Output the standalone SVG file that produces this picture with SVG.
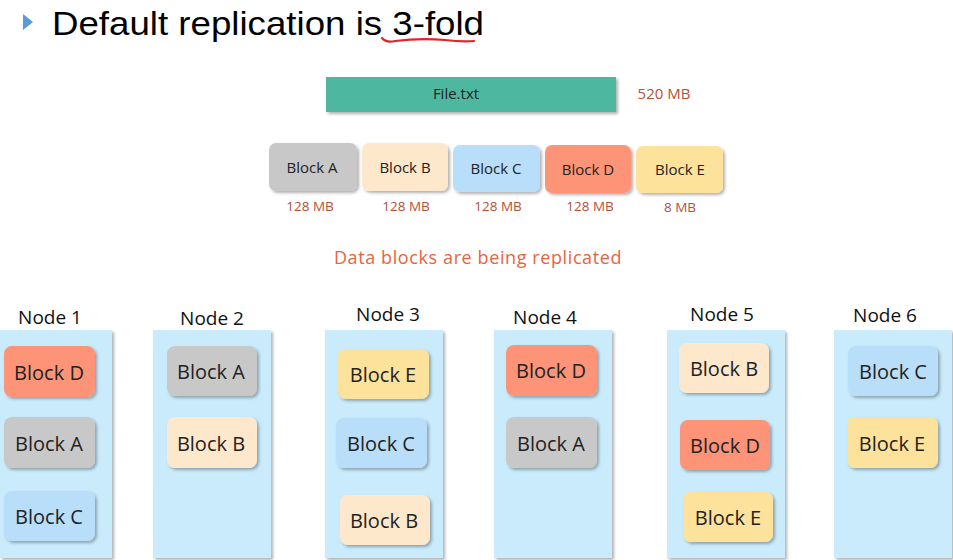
<svg xmlns="http://www.w3.org/2000/svg" width="953" height="560" viewBox="0 0 953 560">
<defs>
<filter id="sh" x="-20%" y="-20%" width="150%" height="150%">
<feDropShadow dx="2" dy="2" stdDeviation="1.5" flood-color="#000" flood-opacity="0.3"/>
</filter>
<style>
.title{font-family:"Liberation Sans",Arial,sans-serif;font-size:34px;fill:#000}
.lbl{font-family:"Open Sans","Noto Sans",sans-serif;fill:#222;text-anchor:middle;dominant-baseline:central}
.sm{font-size:15px}
.big{font-size:20px}
.mb{font-family:"Open Sans","Noto Sans",sans-serif;font-size:13.5px;fill:#b5503a;text-anchor:middle;dominant-baseline:central}
.node-title{font-family:"Open Sans","Noto Sans",sans-serif;font-size:19px;fill:#111;text-anchor:middle;dominant-baseline:central}
.col{fill:#c9ebfb;filter:url(#sh)}
.blk{filter:url(#sh)}
.a{fill:#c9c8c8}.b{fill:#fde8cc}.c{fill:#b8defa}.d{fill:#fd9478}.e{fill:#fde29c}
</style>
</defs>
<rect width="953" height="560" fill="#fff"/>
<g id="title">
<polygon points="23,14 33,22 23,30" fill="#5b9bd5"/>
<text class="title" x="52" y="35" textLength="432" lengthAdjust="spacingAndGlyphs">Default replication is 3-fold</text>
<path d="M382,38 Q386,43 395,41 Q420,38 445,40 Q462,42 474,41" fill="none" stroke="#e3222a" stroke-width="2.2" stroke-linecap="round"/>
</g>
<g id="file">
<rect x="326" y="77" width="290" height="35" fill="#4db89f" filter="url(#sh)"/>
<text class="lbl sm" x="456" y="93">File.txt</text>
<text class="mb" x="664" y="93" style="font-size:15px">520 MB</text>
</g>
<g id="top-blocks">
<g id="top-a"><rect class="blk a" x="269" y="143" width="88" height="48" rx="7"/><text class="lbl sm" x="312" y="167">Block A</text><text class="mb" x="310" y="206">128 MB</text></g>
<g id="top-b"><rect class="blk b" x="362" y="143" width="86" height="48" rx="7"/><text class="lbl sm" x="405" y="167">Block B</text><text class="mb" x="406" y="206">128 MB</text></g>
<g id="top-c"><rect class="blk c" x="453" y="145" width="87" height="47" rx="7"/><text class="lbl sm" x="496" y="168">Block C</text><text class="mb" x="498" y="206">128 MB</text></g>
<g id="top-d"><rect class="blk d" x="545" y="145" width="86" height="48" rx="7"/><text class="lbl sm" x="588" y="169">Block D</text><text class="mb" x="590" y="206">128 MB</text></g>
<g id="top-e"><rect class="blk e" x="636" y="146" width="87" height="47" rx="7"/><text class="lbl sm" x="680" y="169">Block E</text><text class="mb" x="680" y="207">8 MB</text></g>
</g>
<text id="caption" x="478" y="257" font-family="'Open Sans','Noto Sans',sans-serif" font-size="18" letter-spacing="0.6" fill="#e8643f" text-anchor="middle" dominant-baseline="central">Data blocks are being replicated</text>
<g id="node1">
<text class="node-title" x="50" y="317">Node 1</text>
<rect class="col" x="0" y="330" width="112" height="228"/>
<rect class="blk d" x="4" y="346" width="91" height="51" rx="8"/><text class="lbl big" x="49" y="372">Block D</text>
<rect class="blk a" x="4" y="417" width="91" height="51" rx="8"/><text class="lbl big" x="49" y="443">Block A</text>
<rect class="blk c" x="4" y="491" width="91" height="50" rx="8"/><text class="lbl big" x="49" y="516">Block C</text>
</g>
<g id="node2">
<text class="node-title" x="212" y="318">Node 2</text>
<rect class="col" x="153" y="330" width="118" height="228"/>
<rect class="blk a" x="167" y="346" width="90" height="50" rx="8"/><text class="lbl big" x="211" y="371">Block A</text>
<rect class="blk b" x="167" y="417" width="90" height="51" rx="8"/><text class="lbl big" x="211" y="443">Block B</text>
</g>
<g id="node3">
<text class="node-title" x="388" y="314">Node 3</text>
<rect class="col" x="325" y="330" width="118" height="228"/>
<rect class="blk e" x="338" y="349" width="91" height="50" rx="8"/><text class="lbl big" x="383" y="374">Block E</text>
<rect class="blk c" x="336" y="418" width="91" height="50" rx="8"/><text class="lbl big" x="381" y="443">Block C</text>
<rect class="blk b" x="340" y="495" width="90" height="50" rx="8"/><text class="lbl big" x="384" y="520">Block B</text>
</g>
<g id="node4">
<text class="node-title" x="545" y="317">Node 4</text>
<rect class="col" x="494" y="330" width="118" height="228"/>
<rect class="blk d" x="506" y="345" width="91" height="51" rx="8"/><text class="lbl big" x="551" y="370">Block D</text>
<rect class="blk a" x="506" y="417" width="91" height="51" rx="8"/><text class="lbl big" x="551" y="443">Block A</text>
</g>
<g id="node5">
<text class="node-title" x="722" y="314">Node 5</text>
<rect class="col" x="667" y="330" width="118" height="228"/>
<rect class="blk b" x="679" y="343" width="90" height="50" rx="8"/><text class="lbl big" x="724" y="368">Block B</text>
<rect class="blk d" x="680" y="420" width="90" height="50" rx="8"/><text class="lbl big" x="725" y="445">Block D</text>
<rect class="blk e" x="683" y="492" width="90" height="50" rx="8"/><text class="lbl big" x="728" y="517">Block E</text>
</g>
<g id="node6">
<text class="node-title" x="885" y="315">Node 6</text>
<rect class="col" x="834" y="330" width="118" height="228"/>
<rect class="blk c" x="848" y="346" width="90" height="50" rx="8"/><text class="lbl big" x="893" y="371">Block C</text>
<rect class="blk e" x="847" y="417" width="91" height="51" rx="8"/><text class="lbl big" x="892" y="443">Block E</text>
</g>
<g id="connectors"/>
</svg>
